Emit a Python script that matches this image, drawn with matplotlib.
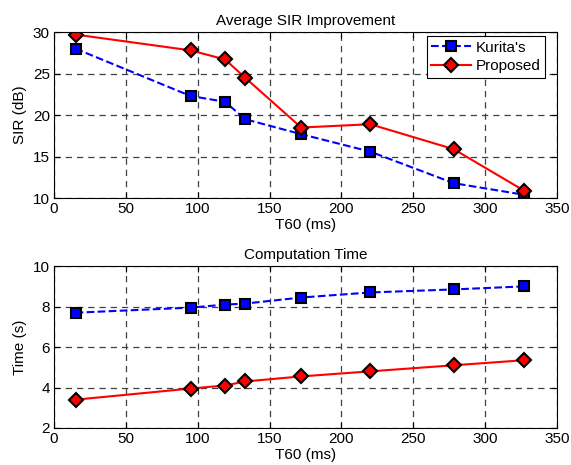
import matplotlib
matplotlib.use("Agg")
import matplotlib.pyplot as plt

t60 = [15, 95, 119, 133, 172, 220, 278, 327]
sir_kurita = [28.0, 22.3, 21.6, 19.5, 17.7, 15.6, 11.8, 10.4]
sir_proposed = [29.7, 27.8, 26.7, 24.5, 18.5, 18.9, 15.9, 10.9]
time_kurita = [7.7, 7.95, 8.1, 8.15, 8.45, 8.7, 8.85, 9.0]
time_proposed = [3.4, 3.95, 4.1, 4.3, 4.55, 4.8, 5.1, 5.35]
xticks = [0, 50, 100, 150, 200, 250, 300, 350]

plt.rcParams['font.family'] = ['Liberation Sans', 'DejaVu Sans']
plt.rcParams['font.size'] = 11

fig = plt.figure(figsize=(5.71, 4.65), dpi=100)
ax1 = fig.add_axes([0.0946, 0.574, 0.881, 0.357])
ax2 = fig.add_axes([0.0946, 0.0796, 0.881, 0.348])

def style(ax):
    ax.grid(True, color='#404040', linestyle=(0, (5, 4)), linewidth=0.9)
    ax.tick_params(direction='in', length=4, width=0.8, labelsize=11, pad=3,
                   top=True, right=True)
    for s in ax.spines.values():
        s.set_linewidth(0.8)
    ax.set_axisbelow(True)

kw_k = dict(color='blue', linestyle='--', linewidth=1.5, marker='s', markersize=7.5,
            markerfacecolor='blue', markeredgecolor='black', markeredgewidth=1.5)
kw_p = dict(color='red', linestyle='-', linewidth=1.5, marker='D', markersize=7.5,
            markerfacecolor='red', markeredgecolor='black', markeredgewidth=1.5)

ax1.plot(t60, sir_kurita, label="Kurita's", **kw_k)
ax1.plot(t60, sir_proposed, label='Proposed', **kw_p)
ax1.set_xlim(0, 350)
ax1.set_ylim(10, 30)
ax1.set_xticks(xticks)
ax1.set_yticks([10, 15, 20, 25, 30])
ax1.set_title('Average SIR Improvement', fontsize=11, pad=5)
ax1.set_xlabel('T60 (ms)', fontsize=11, labelpad=1)
ax1.set_ylabel('SIR (dB)', fontsize=11, labelpad=4)
style(ax1)
leg = ax1.legend(loc='upper right', bbox_to_anchor=(1 - 12 / 503, 1 - 4 / 166),
                 fancybox=False, framealpha=1, edgecolor='black',
                 fontsize=11, handlelength=2.6, borderpad=0.3, labelspacing=0.3,
                 handletextpad=0.3, borderaxespad=0)
leg.get_frame().set_linewidth(0.8)

ax2.plot(t60, time_kurita, **kw_k)
ax2.plot(t60, time_proposed, **kw_p)
ax2.set_xlim(0, 350)
ax2.set_ylim(2, 10)
ax2.set_xticks(xticks)
ax2.set_yticks([2, 4, 6, 8, 10])
ax2.set_title('Computation Time', fontsize=11, pad=5)
ax2.set_xlabel('T60 (ms)', fontsize=11, labelpad=1)
ax2.set_ylabel('Time (s)', fontsize=11, labelpad=4)
style(ax2)

fig.savefig('out.png', dpi=100)
